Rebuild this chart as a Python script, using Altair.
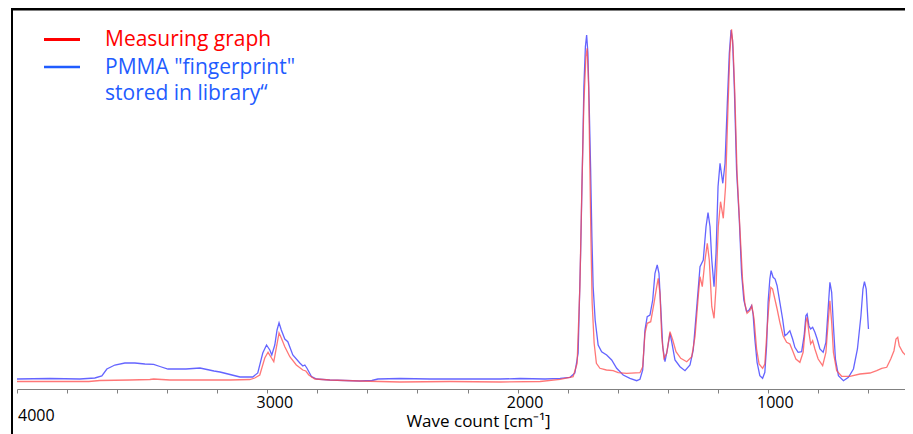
import altair as alt
import pandas as pd

# Measuring graph (red): wavenumber [cm-1] and absorbance (arbitrary units)
red_wn = [4000, 3829, 3713, 3669, 3549, 3469, 3454, 3389, 3269, 3149,
          3070, 3050, 3030, 3010, 2997, 2983, 2974, 2963, 2953, 2944,
          2930, 2910, 2884, 2858, 2846, 2834, 2810, 2750, 2630, 2470,
          2270, 2070, 1910, 1830, 1778, 1762, 1751, 1743, 1735, 1727,
          1722, 1716, 1711, 1707, 1702, 1694, 1685, 1671, 1645, 1618,
          1598, 1564, 1511, 1500, 1491, 1482, 1468, 1455, 1444, 1438,
          1431, 1424, 1415, 1404, 1391, 1380, 1367, 1348, 1324, 1304,
          1291, 1277, 1271, 1262, 1251, 1242, 1234, 1224, 1215, 1207,
          1198, 1189, 1178, 1169, 1160, 1152, 1145, 1139, 1132, 1123,
          1112, 1101, 1092, 1083, 1072, 1064, 1055, 1045, 1035, 1021,
          1012, 1003, 995, 988, 981, 972, 963, 952, 939, 925,
          912, 901, 888, 872, 859, 848, 843, 836, 829, 821,
          812, 799, 781, 768, 760, 752, 745, 738, 725, 705,
          672, 632, 592, 565, 545, 525, 509, 496, 488, 481,
          475, 461, 445, 432, 420]
red_abs = [7.5, 7.5, 7.5, 8.5, 9, 9.5, 10, 9, 9, 9,
           9.5, 11, 14, 31, 36.7, 31, 27.3, 42.3, 56, 51,
           42.3, 32.3, 24, 19, 18, 14, 10, 9, 8, 7,
           7.5, 7, 7.5, 9.7, 12.3, 25.7, 102.3, 202.3, 285.7, 332.3,
           340.7, 302.3, 219, 152.3, 86, 45.7, 25.7, 20.7, 19, 18.3,
           16.3, 15.7, 16.3, 22.3, 55.7, 65.7, 67.3, 85.7, 102.3, 110.7,
           95.7, 52.3, 30.7, 35.7, 57.3, 49, 37.3, 30.7, 27.3, 32.3,
           52.3, 95.7, 112.3, 102.3, 129, 145.7, 129, 82.3, 70.7, 102.3,
           162.3, 187.3, 170.7, 202.3, 275.7, 335.7, 359.7, 342.3, 295.7, 215.7,
           162.3, 109, 85.7, 75.7, 78.3, 83.3, 70, 40, 25, 20.7,
           25, 60, 86.7, 101.7, 100, 90, 80, 66.7, 53.3, 46.7,
           45, 38.3, 30, 26.7, 36.7, 66.7, 71.7, 56.7, 45, 48.3,
           40, 30, 23.3, 36.7, 63.3, 88.3, 66.7, 36.7, 18.3, 12.7,
           12.7, 15, 16, 18.3, 20.7, 21.7, 30, 38.3, 50, 51.7,
           43.3, 36.7, 32.7, 35, 40]

# PMMA library fingerprint (blue)
blue_wn = [4000, 3869, 3749, 3689, 3661, 3641, 3609, 3569, 3529, 3489,
           3454, 3429, 3397, 3325, 3269, 3213, 3189, 3141, 3109, 3058,
           3038, 3018, 3003, 2990, 2982, 2970, 2961, 2953, 2944, 2930,
           2918, 2898, 2870, 2858, 2850, 2842, 2823, 2803, 2750, 2630,
           2582, 2558, 2470, 2350, 2190, 2070, 1990, 1890, 1830, 1790,
           1771, 1758, 1748, 1740, 1735, 1729, 1724, 1719, 1714, 1708,
           1703, 1698, 1690, 1678, 1664, 1644, 1624, 1604, 1578, 1551,
           1524, 1511, 1500, 1491, 1482, 1471, 1460, 1451, 1442, 1435,
           1428, 1420, 1411, 1402, 1391, 1383, 1371, 1351, 1331, 1311,
           1298, 1284, 1271, 1258, 1247, 1239, 1231, 1224, 1215, 1207,
           1199, 1191, 1180, 1171, 1162, 1154, 1147, 1141, 1134, 1125,
           1114, 1105, 1096, 1085, 1075, 1065, 1059, 1052, 1043, 1032,
           1021, 1012, 1005, 999, 992, 987, 979, 971, 963, 952,
           941, 932, 923, 912, 901, 892, 879, 865, 855, 848,
           843, 836, 829, 821, 812, 803, 792, 779, 768, 760,
           752, 745, 738, 730, 718, 698, 678, 658, 642, 628,
           620, 614, 607, 602, 598]
blue_abs = [10, 10.5, 10, 11, 13, 20, 24, 26, 26, 25,
            24.6, 22.5, 20, 20, 21, 18, 17, 14, 12, 12,
            16, 36, 44, 39, 34, 44, 59, 66.3, 59, 50,
            47.3, 34, 26, 23, 24, 21, 12.3, 10, 9, 8,
            8.5, 10, 10.5, 10, 10, 10, 10.5, 10, 10.7, 11.7,
            16, 36, 136, 236, 302.3, 342.3, 354, 336, 286, 219,
            152.3, 102.3, 69, 44, 37.3, 34, 29, 20.7, 14, 10.7,
            8.3, 9.7, 19, 59, 72.3, 74, 89, 115.7, 124, 115.7,
            82.3, 42.3, 27.3, 39, 55.7, 45.7, 29, 22.3, 18.3, 24,
            39, 82.3, 122.3, 129, 162.3, 176.3, 162.3, 129, 102.3, 135.7,
            202.3, 225.7, 205.7, 225.7, 285.7, 335.7, 359, 349, 302.3, 219,
            169, 115.7, 89, 77.3, 79, 83.3, 75, 50, 26.7, 13.3,
            10.7, 16.7, 43.3, 86.7, 110, 118.3, 111.7, 110, 103.3, 86.7,
            70, 53.3, 55, 58.3, 50, 41.7, 36.7, 37.3, 53.3, 73.3,
            75, 63.3, 60, 61.7, 56.7, 50, 40, 36.7, 46.7, 76.7,
            106.7, 96.7, 63.3, 30, 13.3, 8.3, 11.7, 20, 40, 73.3,
            100, 107.3, 100, 76.7, 60]

tick_values = [4000, 3800, 3600, 3400, 3200, 3000, 2800, 2600, 2400, 2200,
               2000, 1800, 1600, 1400, 1200, 1000, 800, 600]
x_title = "Wave count [cm⁻¹]"
left_label = ["4000"]
legend_labels = ["Measuring graph", 'PMMA "fingerprint"\nstored in library“']
legend_colors = ["#ff0000", "#1f5cff"]
line_colors = ["#ff4a4a", "#3d3dff"]

FONT = "Open Sans"
W, H = 888, 381
TOTAL_H = 426
X_END = 452  # wavenumber at the right edge of the visible plot

red_df = pd.DataFrame({"wn": red_wn, "a": red_abs})
blue_df = pd.DataFrame({"wn": blue_wn, "a": blue_abs})
one = pd.DataFrame({"k": [0]})

x_enc = alt.X(
    "wn:Q",
    scale=alt.Scale(domain=[4000, X_END], nice=False, zero=False),
    axis=alt.Axis(
        values=tick_values,
        labelExpr="(datum.value % 1000 == 0 && datum.value < 4000) ? format(datum.value, 'd') : ''",
        labelFont=FONT, labelFontSize=16, labelColor="black",
        labelPadding=1, labelOffset=7, labelBaseline="top",
        labelFlush=False, labelOverlap=False,
        tickColor="#808080", tickSize=4, tickWidth=1,
        domainColor="#808080", domainWidth=1.2, grid=False,
        title=x_title, titleFont=FONT, titleFontSize=17,
        titleFontWeight="normal", titleColor="black",
        titleX=461, titleY=37, titleBaseline="alphabetic", titleAlign="center",
    ),
)
y_enc = alt.Y("a:Q", scale=alt.Scale(domain=[0, H], nice=False, zero=True), axis=None)

blue_line = alt.Chart(blue_df).mark_line(
    color=line_colors[1], strokeWidth=1.3, opacity=0.8, clip=True
).encode(x=x_enc, y=y_enc)

red_line = alt.Chart(red_df).mark_line(
    color=line_colors[0], strokeWidth=1.3, opacity=0.75, clip=True
).encode(x=x_enc, y=y_enc)

label4000 = alt.Chart(pd.DataFrame({"wn": [4000], "t": left_label})).mark_text(
    align="left", baseline="alphabetic", font=FONT, fontSize=16, color="black", dx=1
).encode(x=x_enc, y=alt.value(H + 32), text="t:N")

top_rule = alt.Chart(one).mark_rule(color="black", strokeWidth=2.5).encode(
    x=alt.value(-5), x2=alt.value(W), y=alt.value(1.2)
)
left_rule = alt.Chart(one).mark_rule(color="black", strokeWidth=2).encode(
    x=alt.value(-5), y=alt.value(0), y2=alt.value(TOTAL_H)
)

leg_red_line = alt.Chart(one).mark_rule(color=legend_colors[0], strokeWidth=3).encode(
    x=alt.value(27), x2=alt.value(63), y=alt.value(31.5)
)
leg_blue_line = alt.Chart(one).mark_rule(color=legend_colors[1], strokeWidth=2.5).encode(
    x=alt.value(27), x2=alt.value(63), y=alt.value(59)
)
leg_red_text = alt.Chart(one).mark_text(
    align="left", baseline="alphabetic", font=FONT, fontSize=21, color=legend_colors[0]
).encode(x=alt.value(88), y=alt.value(38), text=alt.value(legend_labels[0]))
leg_blue_text = alt.Chart(one).mark_text(
    align="left", baseline="alphabetic", font=FONT, fontSize=21, color=legend_colors[1],
    lineBreak="\n", lineHeight=25.5
).encode(x=alt.value(88), y=alt.value(66), text=alt.value(legend_labels[1]))

chart = alt.layer(
    blue_line, red_line, label4000, top_rule, left_rule,
    leg_red_line, leg_blue_line, leg_red_text, leg_blue_text
).properties(
    width=W, height=H,
    padding={"left": 9, "top": 0, "right": 0, "bottom": TOTAL_H - H},
    autosize=alt.AutoSizeParams(type="none"),
    background="white",
).configure_view(stroke=None)

chart.save("out.html", embed_options={"renderer": "svg", "actions": False})
